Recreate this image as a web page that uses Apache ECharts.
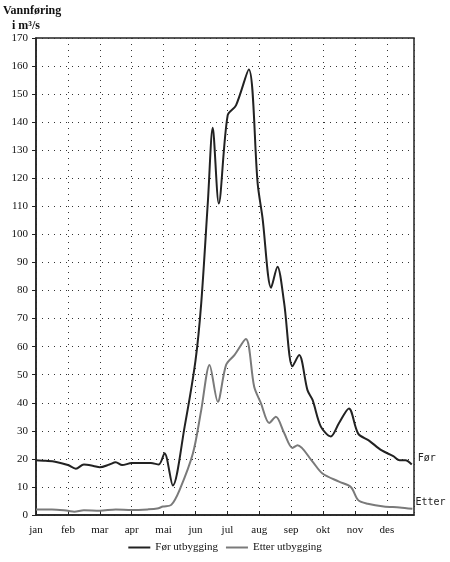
<!DOCTYPE html>
<html>
<head>
<meta charset="utf-8">
<script src="https://cdn.jsdelivr.net/npm/echarts@6/dist/echarts.min.js"></script>
<style>html,body{margin:0;padding:0;background:#fff}#main{width:450px;height:562px}</style>
</head>
<body>
<div id="main"></div>
<script>
'use strict';

const months = ['jan', 'feb', 'mar', 'apr', 'mai', 'jun', 'jul', 'aug', 'sep', 'okt', 'nov', 'des'];

// [month position, m3/s]
const forData = [
    [0, 19.5], [0.3, 19.3], [0.6, 19], [1.0, 17.8], [1.25, 16.5], [1.5, 18], [1.8, 17.5], [2.0, 17],
    [2.3, 18], [2.5, 18.8], [2.7, 17.8], [3.0, 18.5], [3.3, 18.5], [3.6, 18.5], [3.85, 18], [4.03, 22],
    [4.29, 10.5], [4.66, 31.5], [5.0, 55], [5.18, 75.5], [5.39, 112], [5.54, 138], [5.73, 111],
    [6.01, 142.5], [6.27, 146], [6.67, 158.8], [6.95, 118], [7.1, 106], [7.37, 81], [7.57, 88.5],
    [7.78, 75.5], [8.04, 53], [8.25, 57], [8.51, 44.5], [8.67, 41], [8.93, 31.5], [9.24, 28],
    [9.5, 32.8], [9.81, 38], [10.1, 29], [10.44, 26.5], [10.84, 23], [11.2, 21], [11.4, 19.5],
    [11.58, 19.5], [11.78, 18]
];

const etterData = [
    [0, 2], [0.5, 2], [1.0, 1.5], [1.2, 1.2], [1.5, 1.7], [2.0, 1.5], [2.5, 2], [3.0, 1.8], [3.5, 2],
    [3.8, 2.3], [3.98, 3], [4.24, 3.6], [4.5, 8.9], [4.92, 22], [5.18, 37.4], [5.44, 53.5], [5.7, 40.4],
    [5.96, 53.5], [6.22, 57], [6.58, 62.7], [6.84, 45.7], [7.05, 39.9], [7.31, 32.8], [7.52, 35],
    [7.78, 29.2], [8.04, 23.9], [8.2, 24.9], [8.67, 19], [8.98, 14.8], [9.5, 11.9], [9.87, 10],
    [10.1, 5.3], [10.4, 4], [10.9, 3], [11.4, 2.7], [11.8, 2.2]
];

const serif = '"Liberation Serif", "DejaVu Serif", serif';
const mono = '"DejaVu Sans Mono", "Liberation Mono", monospace';
const dotted = { color: '#333', type: [1, 5], width: 1 };

window.onload = function () {
    const chart = echarts.init(document.getElementById('main'));
    chart.setOption({
        animation: false,
        textStyle: { fontFamily: serif },
        grid: { left: 36, right: 36, top: 38, bottom: 47, show: true, borderColor: '#222', borderWidth: 1.5 },
        graphic: [{
            type: 'text', left: 3, top: 3,
            style: { text: 'Vannføring\n   i m³/s', font: 'bold 12px ' + serif, fill: '#111', lineHeight: 15 }
        }],
        legend: {
            bottom: 4, itemWidth: 22, itemHeight: 2, itemGap: 8,
            textStyle: { fontFamily: serif, fontSize: 11, color: '#111' },
            data: [
                { name: 'Før utbygging', icon: 'rect' },
                { name: 'Etter utbygging', icon: 'rect' }
            ]
        },
        xAxis: {
            type: 'value', min: 0, max: 11.85, interval: 1,
            axisLine: { lineStyle: { color: '#222', width: 1.5 } },
            axisTick: { show: true, length: 4, inside: true, lineStyle: { color: '#222' } },
            axisLabel: {
                color: '#111', fontSize: 11, fontFamily: serif, margin: 10,
                showMaxLabel: false,
                formatter: v => months[Math.round(v)] || ''
            },
            splitLine: { show: true, lineStyle: dotted }
        },
        yAxis: {
            type: 'value', min: 0, max: 170, interval: 10,
            axisLine: { show: true, lineStyle: { color: '#222', width: 1.5 } },
            axisTick: { show: true, length: 4, lineStyle: { color: '#222' } },
            axisLabel: { color: '#111', fontSize: 11, fontFamily: serif },
            splitLine: { show: true, lineStyle: dotted }
        },
        series: [
            {
                name: 'Før utbygging', type: 'line', data: forData, smooth: 0.3, showSymbol: false,
                lineStyle: { color: '#222', width: 2 }, itemStyle: { color: '#222' },
                endLabel: { show: true, formatter: 'Før', fontFamily: mono, fontSize: 10, color: '#222', distance: 2, offset: [4, -6] }
            },
            {
                name: 'Etter utbygging', type: 'line', data: etterData, smooth: 0.3, showSymbol: false,
                lineStyle: { color: '#7a7a7a', width: 2 }, itemStyle: { color: '#7a7a7a' },
                endLabel: { show: true, formatter: 'Etter', fontFamily: mono, fontSize: 10, color: '#222', distance: 2, offset: [1, -6] }
            }
        ]
    });
};
</script>
</body>
</html>
